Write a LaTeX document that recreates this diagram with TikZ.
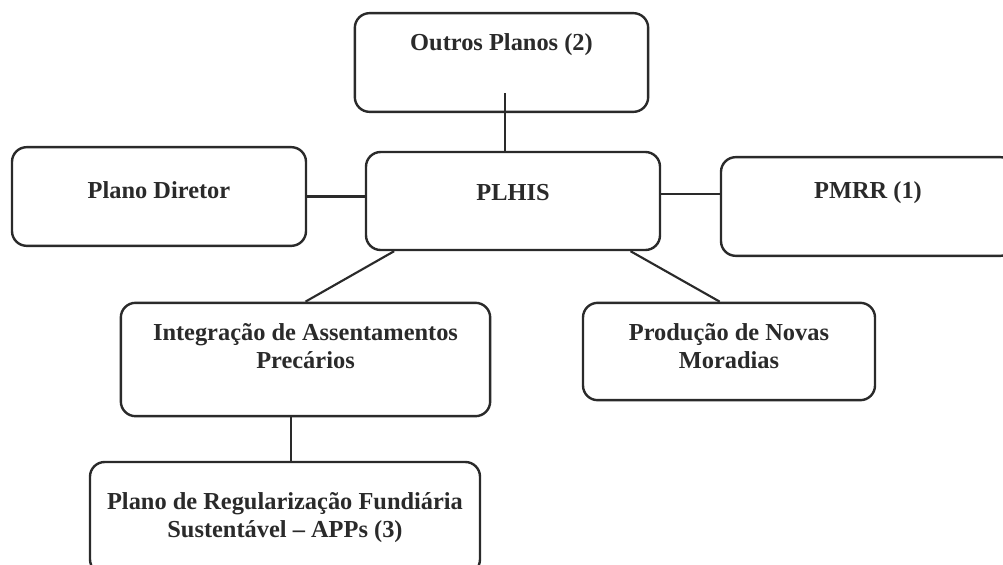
\documentclass[tikz,border=0pt]{standalone}
\usepackage{fontspec}
\setmainfont{Liberation Serif}
\usepackage{tikz}

\definecolor{inkgray}{HTML}{2A2A2A}

\tikzset{
    planbox/.style={draw=inkgray, line width=1.8pt, rounded corners=11pt,
        align=center, inner sep=0pt, text=inkgray,
        font=\fontsize{18.3pt}{21pt}\selectfont\bfseries},
    link/.style={draw=inkgray, line width=1.6pt}
}

\begin{document}
\begin{tikzpicture}[x=0.75pt, y=-0.75pt]
        % Frame
        \useasboundingbox (0,0) rectangle (1003,564);

        % Boxes
        \node (outros) [planbox, minimum width=220pt, minimum height=74pt, text depth=30pt]
            at (501.5,62.5) {Outros Planos (2)};
        \node (diretor) [planbox, minimum width=220.5pt, minimum height=74pt, text depth=9pt]
            at (159,196.5) {Plano Diretor};
        \node (plhis) [planbox, minimum width=220.5pt, minimum height=73.5pt, text depth=13pt]
            at (513,201) {PLHIS};
        \node (pmrr) [planbox, minimum width=220.5pt, minimum height=74pt, text depth=24pt]
            at (868,206.5) {PMRR (1)};
        \node (integ) [planbox, minimum width=277pt, minimum height=85pt, text depth=21pt]
            at (305.5,359.5) {Integração de Assentamentos\\Precários};
        \node (producao) [planbox, minimum width=219pt, minimum height=73pt, text depth=8pt]
            at (729,351.5) {Produção de Novas\\Moradias};
        \node (regular) [planbox, minimum width=292.5pt, minimum height=84pt]
            at (285,518) {Plano de Regularização Fundiária\\Sustentável -- APPs (3)};

        % Connectors
        \draw[link] ([xshift=2.5pt, yshift=15pt]outros.south) -- ([xshift=2.5pt]outros.south |- plhis.north);
        \draw[link] (diretor.east) -- (diretor.east -| plhis.west);
        \draw[link] ([yshift=5pt]plhis.east) -- ([yshift=5pt]plhis.east -| pmrr.west);
        \draw[link] ([xshift=22pt]plhis.south west) -- (integ.north);
        \draw[link] ([xshift=-23pt]plhis.south east) -- ([xshift=-7pt]producao.north);
        \draw[link] ([xshift=-11pt]integ.south) -- ([xshift=-11pt]integ.south |- regular.north);
\end{tikzpicture}
\end{document}
